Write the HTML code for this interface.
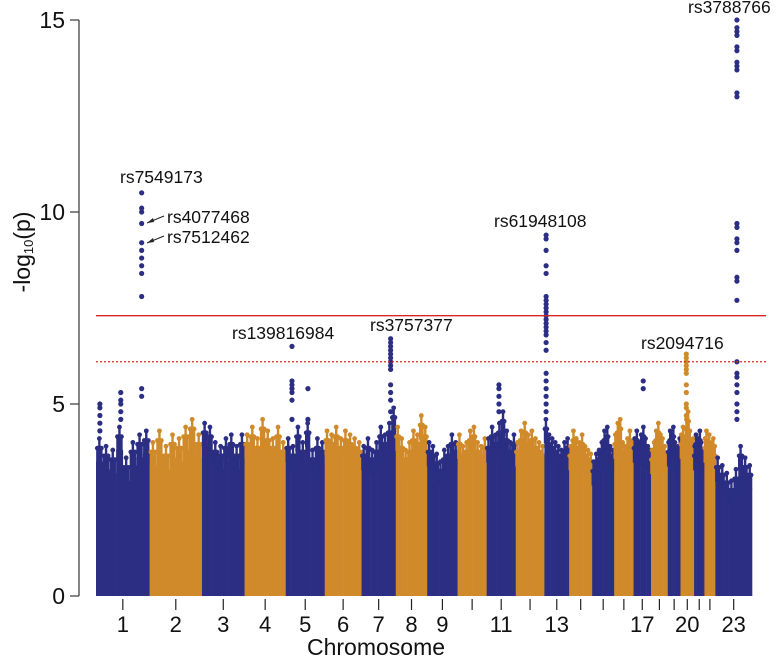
<!DOCTYPE html>
<html><head><meta charset="utf-8"><style>
html,body{margin:0;padding:0;background:#fff;}
svg{display:block;font-family:"Liberation Sans",Arial,sans-serif;}
</style></head><body>
<svg id="chart" width="782" height="657" viewBox="0 0 782 657" xmlns="http://www.w3.org/2000/svg">
<g id="bulk"></g>
<g id="peaks"></g>
<g id="lines"></g>
<g id="axes"></g>
<g id="annot"></g>
</svg>
<script>
const chromLen=[249,243,198,191,181,171,159,146,141,135,135,133,115,107,102,90,81,78,59,63,48,51,170];
const chromLabels=["1","2","3","4","5","6","7","8","9","","11","","13","","","","17","","","20","","","23"];
const yTicks=[0,5,10,15];
const genomeWide=7.3;
const suggestive=6.1;
const profile=[
[4.1,3.9,3.8,4.4,3.6,4.0,4.2,4.3],[4.0,4.3,3.9,4.2,4.1,4.4,4.6,4.2],[4.5,4.4,4.0,3.9,4.1,4.2,3.9,4.2],
[4.2,4.4,4.1,4.6,4.3,4.1,4.4,4.0],[4.1,3.9,4.4,4.0,4.5,3.8,4.1,4.0],[4.3,4.2,4.4,4.1,4.3,4.2,4.1,4.0],
[3.9,4.1,3.8,4.0,4.4,4.2,4.5,4.9],[4.4,4.1,3.8,4.0,4.3,4.2,4.7,4.4],[4.0,3.9,3.7,3.5,3.8,3.9,4.2,4.0],
[4.2,3.9,4.0,4.3,4.4,4.0,3.9,4.1],[4.1,4.4,4.2,4.5,4.8,4.3,4.0,4.2],[4.0,4.3,4.5,4.2,4.3,4.1,4.0,3.9],
[4.6,4.2,4.1,4.0,3.9,3.8,4.0,4.1],[3.9,4.3,4.1,4.0,4.2,3.9,3.8,3.7],[3.5,3.7,3.8,4.0,4.3,4.4,3.9,3.8],
[4.2,4.5,4.6,4.0,3.9,4.1,4.3,4.0],[4.1,4.3,4.0,4.2,4.4,4.1,3.9,3.8],[3.8,4.0,4.3,4.5,4.2,4.1,3.9,3.7],
[4.0,4.3,4.2,4.4,4.0,3.8,3.9,4.1],[4.2,4.4,4.1,4.6,4.8,4.3,4.0,4.1],[3.9,4.2,4.0,4.1,4.3,4.0,3.8,3.7],
[4.1,4.3,4.0,4.2,3.9,4.0,4.1,3.9],[3.6,3.4,3.2,3.0,3.3,3.9,3.6,3.4]];
const peakChrom=[1,1,1,5,5,7,11,13,17,20,23];
const peakPos=[212,115,18,29,103,135,57,8,45,27,100];
const peakVals=[
[10.5,10.1,10.0,9.7,9.2,9.0,8.8,8.6,8.4,7.8,5.4,5.2],
[5.3,5.1,5.0,4.8,4.6],
[5.0,4.9,4.7,4.5,4.3],
[6.5,5.6,5.5,5.4,5.3,5.1,4.6],
[5.4,4.6],
[6.7,6.6,6.5,6.4,6.3,6.2,6.1,6.0,5.9,5.5,5.3,5.1,4.8],
[5.5,5.4,5.2,5.0,4.8],
[9.4,9.3,9.0,8.6,8.4,7.8,7.7,7.6,7.5,7.4,7.3,7.2,7.1,7.0,6.9,6.8,6.6,6.4,5.8,5.6,5.4,5.2,5.0,4.8],
[5.6,5.4],
[6.3,6.2,6.1,6.0,5.9,5.8,5.5,5.3,5.0,4.9,4.7],
[15.0,14.8,14.7,14.6,14.3,14.2,13.9,13.8,13.7,13.1,13.0,9.7,9.6,9.3,9.2,9.0,8.3,8.2,7.7,6.1,5.8,5.7,5.5,5.3,5.0,4.8,4.6]];
const annLabels=["rs7549173","rs4077468","rs7512462","rs139816984","rs3757377","rs61948108","rs2094716","rs3788766"];

const NS="http://www.w3.org/2000/svg";
const X0=96,X1=752,Y0=596,YPU=38.4;
const total=chromLen.reduce((a,b)=>a+b,0);
const cum=[];let s=0;chromLen.forEach(l=>{cum.push(s);s+=l;});
function xs(c,pos){return X0+(cum[c-1]+pos)/total*(X1-X0);}
function ys(v){return Y0-v*YPU;}
const BLUE="#2b2e83",ORANGE="#d08a2a";
function col(c){return c%2===1?BLUE:ORANGE;}
function mk(tag,attrs,parent){const e=document.createElementNS(NS,tag);for(const k in attrs)e.setAttribute(k,attrs[k]);parent.appendChild(e);return e;}

const bulk=document.getElementById('bulk');
chromLen.forEach((len,i)=>{
  const c=i+1,p=profile[i],n=p.length;
  const g=mk('g',{},bulk);
  
  
  p.forEach((h,j)=>{
    const xa=xs(c,len*j/n),xb=xs(c,len*(j+1)/n);
    const r=mk('rect',{x:xa,y:ys(h-0.6),width:xb-xa+0.3,height:(h-0.6)*YPU,fill:col(c)},g);
    
    
    const w=xb-xa;
    [0.2,0.5,0.8].forEach((f,k)=>{
      const hh=h-0.6+(k===1?0.6:0.35);
      const xx=xa+w*f;
      mk('rect',{x:xx-1.2,y:ys(hh),width:2.4,height:(hh-h+0.6)*YPU+1,fill:col(c)},g);
      const d=mk('circle',{cx:xx,cy:ys(hh),r:2.4,fill:col(c)},g);
      
      
    });
  });
});
const peaks=document.getElementById('peaks');
peakChrom.forEach((c,i)=>{
  const x=xs(c,peakPos[i]);
  peakVals[i].forEach(v=>{
    const d=mk('circle',{cx:x,cy:ys(v),r:2.6,fill:col(c)},peaks);
    
    
  });
});
const lines=document.getElementById('lines');
const l1=mk('line',{x1:X0,x2:766,y1:ys(genomeWide),y2:ys(genomeWide),stroke:"#d62728","stroke-width":1.3},lines);


const l2=mk('line',{x1:X0,x2:766,y1:ys(suggestive),y2:ys(suggestive),stroke:"#d62728","stroke-width":1.3,"stroke-dasharray":"2,2"},lines);



const axes=document.getElementById('axes');
const ya=mk('line',{x1:79,x2:79,y1:ys(15),y2:Y0,stroke:"#444","stroke-width":1.3},axes);


yTicks.forEach(t=>{
  mk('line',{x1:70,x2:79,y1:ys(t),y2:ys(t),stroke:"#444","stroke-width":1.3},axes);
  const tx=mk('text',{x:65,y:ys(t)+8,"text-anchor":"end","font-size":23,fill:"#111"},axes);
  tx.textContent=t;
  
  
});
chromLen.forEach((len,i)=>{
  const x=xs(i+1,len/2);
  mk('line',{x1:x,x2:x,y1:Y0+3,y2:Y0+14,stroke:"#222","stroke-width":1.2},axes);
  if(chromLabels[i]){
    const tx=mk('text',{x:x,y:Y0+36,"text-anchor":"middle","font-size":22,fill:"#111"},axes);
    tx.textContent=chromLabels[i];
    
    
  }
});
const xt=mk('text',{x:376,y:655,"text-anchor":"middle","font-size":23,fill:"#111"},axes);
xt.textContent="Chromosome";


const yt=mk('text',{x:0,y:0,"text-anchor":"middle","font-size":23,fill:"#111",transform:"translate(30,252) rotate(-90)"},axes);
yt.innerHTML='-log<tspan font-size="13" dy="3">10</tspan><tspan dy="-3">(p)</tspan>';



const annot=document.getElementById('annot');
const annPos=[[120,183,"start"],[167,223,"start"],[167,243,"start"],[232,339,"start"],[370,331,"start"],[494,227,"start"],[641,349,"start"],[688,13,"start"]];
annLabels.forEach((t,i)=>{
  const tx=mk('text',{x:annPos[i][0],y:annPos[i][1],"text-anchor":annPos[i][2],"font-size":17.5,fill:"#111"},annot);
  tx.textContent=t;
  
  
});
[[164,216,147,223],[164,236,147,243]].forEach(a=>{
  const ln=mk('line',{x1:a[0],y1:a[1],x2:a[2],y2:a[3],stroke:"#222","stroke-width":1},annot);
  
  
  mk('polygon',{points:`${a[2]},${a[3]} ${a[2]+6},${a[3]-5} ${a[2]+7},${a[3]-1}`,fill:"#222"},annot);
});
</script>
</body></html>
